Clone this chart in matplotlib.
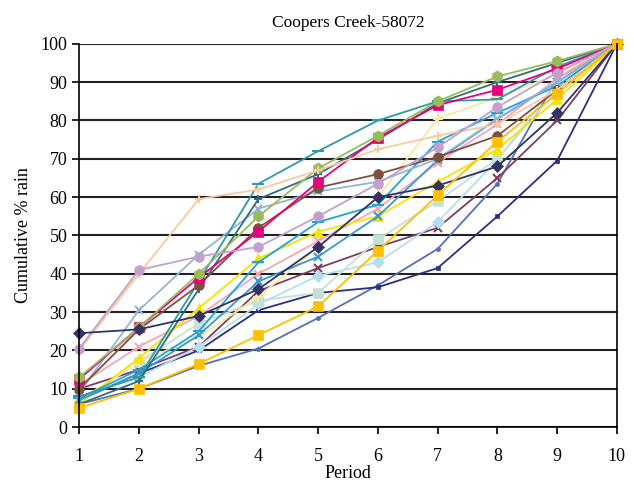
import numpy as np
from matplotlib import pyplot as plt

plt.rcParams['font.family'] = ['Liberation Serif', 'DejaVu Serif']

# period numbers on the x axis
period = np.arange(1, 11)

# cumulative % rain, one list per year
s_navy_diamond = [24.5, 25.5, 29, 36, 47, 60, 63, 68, 82, 100]
s_lavender = [20.5, 41, 44.5, 47, 55, 63.5, 73, 83.5, 92.5, 100]
s_peach = [20, 40, 59.5, 62, 67, 72.5, 76, 79, 88, 100]
s_olive = [13, 26, 40, 55, 67.5, 76, 85, 91.5, 95.5, 100]
s_magenta = [12.5, 26, 39, 51, 64, 75.5, 84, 88, 93.5, 100]
s_brown = [10, 25.5, 37, 52, 62.5, 66, 70.5, 76, 88, 100]
s_teal = [8, 13, 38, 63.5, 72, 80, 85, 85.5, 94, 100]
s_darkteal = [6, 12, 36, 59.5, 66, 75, 84.5, 90, 95, 100]
s_lightblue_x = [9, 30.5, 45, 57, 61.5, 64, 70, 80.5, 90, 100]
s_cyan = [7.5, 15, 25, 43, 53.5, 58, 74.5, 82, 89, 100]
s_yellow = [6, 18, 31, 44, 51, 55, 64, 72.5, 85.5, 100]
s_pink = [11, 21, 29, 40, 48.5, 57, 69, 79, 91, 100]
s_lightyellow = [7, 17, 23.5, 34, 47, 60, 80.5, 86, 92, 100]
s_lightteal = [6.5, 17, 27, 33, 35, 49, 59, 70, 88, 100]
s_gold = [5, 10, 16.5, 24, 31.5, 46, 60.5, 74.5, 87, 100]
s_paleblue = [8, 13, 21, 32, 39.5, 43, 53.5, 69.7, 90, 100]
s_plum = [10, 15, 21, 35.5, 41.5, 47, 52, 65, 80, 100]
s_navy = [7, 14, 20, 30.5, 35, 36.5, 41.5, 55, 69.5, 100]
s_blue = [6, 10, 16, 20.5, 28.5, 37, 46.5, 63.5, 91, 100]
s_steel_x = [7, 14, 24, 38, 44.5, 55, 69.7, 80.4, 90, 100]

series = [
    (s_blue, "#5670b8", "o", 3),
    (s_navy, "#2b2e83", "s", 3),
    (s_plum, "#7b3f5f", "x", 6),
    (s_paleblue, "#b9ddf0", "D", 6),
    (s_lightteal, "#c5e0d8", "s", 7),
    (s_lightyellow, "#f8e9a0", "+", 7),
    (s_pink, "#f4a6b8", "x", 6),
    (s_yellow, "#f5e400", "^", 7),
    (s_cyan, "#1fa5d8", "_", 8),
    (s_steel_x, "#3a9ad0", "x", 6),
    (s_lightblue_x, "#95b3d7", "x", 6),
    (s_darkteal, "#2f6f80", "+", 6),
    (s_teal, "#2e9aa8", "_", 8),
    (s_brown, "#7f4f3f", "o", 7),
    (s_magenta, "#e6007e", "s", 7),
    (s_olive, "#9bbb59", "h", 8),
    (s_peach, "#f9c9a0", "+", 6),
    (s_lavender, "#c3a1cc", "o", 7),
    (s_navy_diamond, "#333366", "D", 6),
    (s_gold, "#ffc000", "s", 7),
]

fig = plt.figure(figsize=(6.34, 4.87), dpi=100)
ax = fig.add_axes([0.125, 0.123, 0.848, 0.787])

for vals, col, mk, ms in series:
    ax.plot(period, vals, color=col, marker=mk, markersize=ms, linewidth=1.3,
            markeredgewidth=1.5 if mk in "x+_" else 0.5, markeredgecolor=col,
            clip_on=False)

ax.set_xlim(1, 10)
ax.set_ylim(0, 100)
ax.set_xticks(period)
ax.set_yticks(np.arange(0, 101, 10))
ax.yaxis.grid(True, color="#222222", linewidth=1.5)
ax.set_axisbelow(True)
ax.spines['top'].set_visible(False)
ax.spines['left'].set_linewidth(1.2)
ax.spines['right'].set_linewidth(1.2)
ax.spines['bottom'].set_linewidth(1.2)
ax.tick_params(axis="both", direction="out", labelsize=13, length=5, width=1.2)
ax.tick_params(axis="x", pad=10)
ax.set_xlabel("Period", fontsize=13, labelpad=0)
ax.set_ylabel("Cumulative % rain", fontsize=13, labelpad=6)
ax.set_title("Coopers Creek-58072", fontsize=12.5, pad=12)

plt.savefig("out.png", dpi=100)
